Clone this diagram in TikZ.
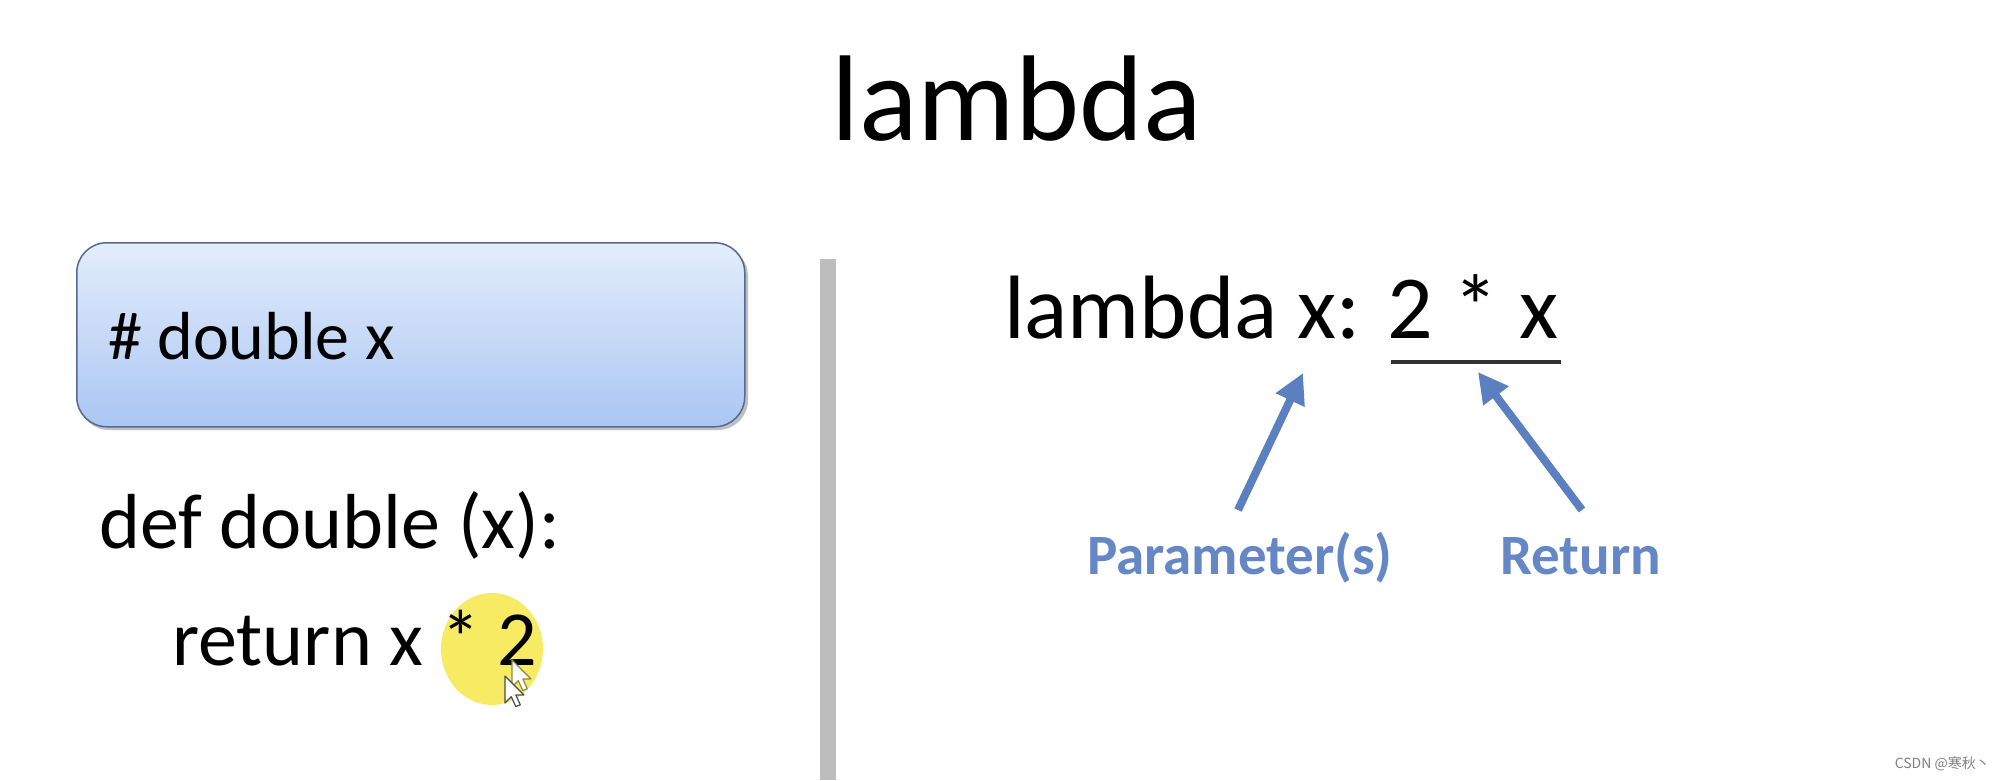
\documentclass[tikz,border=0pt]{standalone}
\usepackage{fontspec}
\setmainfont{Carlito}
\newfontfamily\cjkwm{Noto Sans CJK SC}
\usetikzlibrary{arrows.meta}
\definecolor{arrowblue}{HTML}{5B80BF}
\definecolor{labelblue}{HTML}{6587C6}
\definecolor{boxtop}{HTML}{E3EDFB}
\definecolor{boxbottom}{HTML}{ABC6F4}
\definecolor{boxborder}{HTML}{56698F}
\definecolor{bargray}{HTML}{BDBDBD}
\definecolor{hilite}{HTML}{F6E84A}
\tikzset{
  codetext/.style={anchor=base west, inner sep=0pt, font=\fontsize{78}{90}\selectfont},
  bluearrow/.style={draw=arrowblue, line width=8pt, -{Triangle[length=30pt,width=30pt]}},
  bluelabel/.style={anchor=base west, inner sep=0pt, text=labelblue, font=\bfseries\fontsize{57}{66}\selectfont},
  cursorshape/.style={line width=1.2pt, fill=white, line join=round}
}
\begin{document}
\begin{tikzpicture}[x=1pt,y=-1pt]
\useasboundingbox (0,0) rectangle (1998,780);
\fill[white] (0,0) rectangle (1998,780);

% title
\node[anchor=base west, inner sep=0pt, font=\fontsize{122}{140}\selectfont] (title) at (831,140) {lambda};

% left box with shadow
\fill[black!25, rounded corners=30pt] (79,246) rectangle (748,430);
\node[rectangle, rounded corners=30pt, draw=boxborder, line width=1.5pt,
      top color=boxtop, bottom color=boxbottom,
      minimum width=668pt, minimum height=184pt, anchor=north west, inner sep=0pt] (box) at (76,242) {};
\node[anchor=base west, inner sep=0pt, font=\fontsize{68}{80}\selectfont] (comment) at (108,359) {\# double x};

% highlight
\fill[hilite, opacity=0.85] (492,649) ellipse [x radius=51, y radius=56];

% code
\node[codetext] (defline) at (99,548) {def double (x):};
\node[codetext] (retline) at (172,665) {return x * 2};

% cursors
\begin{scope}[shift={(512,660)}, scale=0.9]
  \draw[cursorshape, draw=black!30!yellow!70!black] (0,0) -- (0,30) -- (7,23) -- (12,34) -- (17,32) -- (12,21) -- (21,21) -- cycle;
\end{scope}
\begin{scope}[shift={(505,676)}, scale=0.9]
  \draw[cursorshape, draw=black!70] (0,0) -- (0,30) -- (7,23) -- (12,34) -- (17,32) -- (12,21) -- (21,21) -- cycle;
\end{scope}

% divider bar
\fill[bargray] (820,259) rectangle (836,780);

% lambda expression
\node[anchor=base west, inner sep=0pt, font=\fontsize{90}{100}\selectfont] (lam) at (1004,338) {lambda x: 2 * x};
\coordinate (ulstart) at (1391,362);
\coordinate (ulend) at (1561,362);
\draw[line width=4pt, black!80] (ulstart) -- (ulend);

% labels and arrows
\node[bluelabel] (param) at (1087,574) {Parameter(s)};
\node[bluelabel] (ret) at (1500,574) {Return};
\coordinate (ptail) at (1238,510);
\coordinate (phead) at (1303,373);
\coordinate (rtail) at (1582,510);
\coordinate (rhead) at (1478,372);
\draw[bluearrow] (ptail) -- (phead);
\draw[bluearrow] (rtail) -- (rhead);

% watermark
\node[anchor=base east, inner sep=0pt, text=black!50, font=\cjkwm\fontsize{14}{16}\selectfont] (wm) at (1990,768) {CSDN @寒秋丶};
\end{tikzpicture}
\end{document}
